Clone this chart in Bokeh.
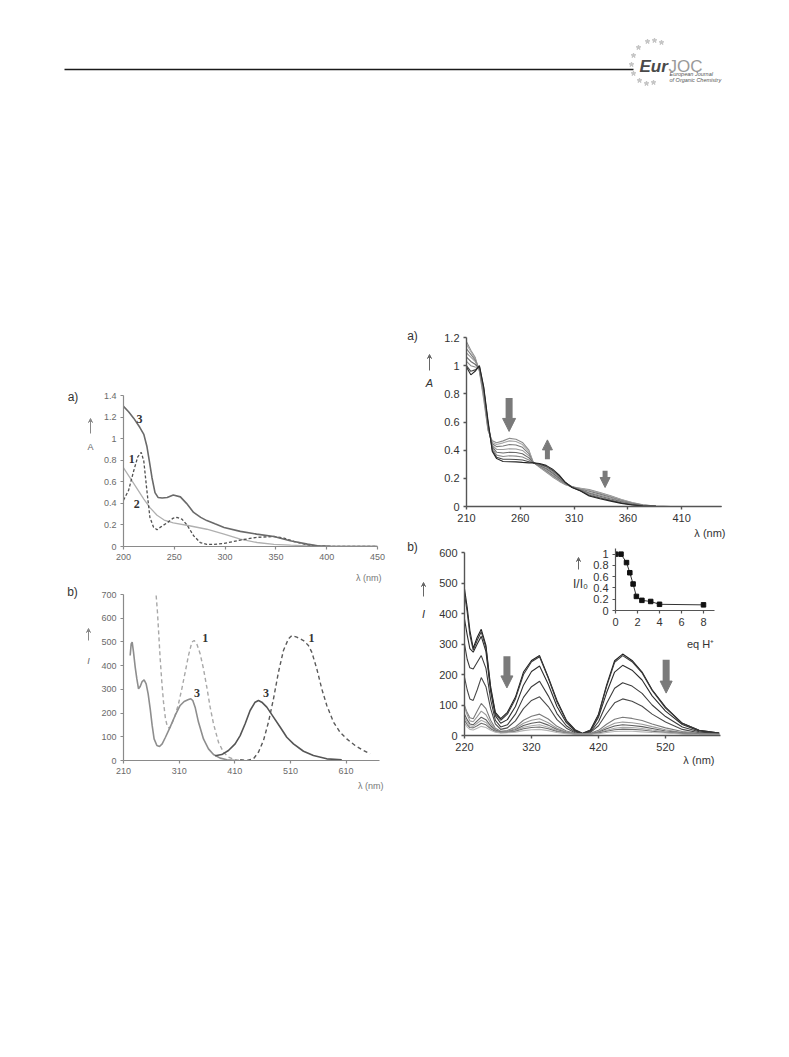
from bokeh.plotting import figure
from bokeh.models import Range1d, FixedTicker, Label, Arrow, NormalHead, VeeHead, GridBox, Column
from bokeh.embed import file_html
from bokeh.resources import INLINE

# ---------------- data: left a) absorbance ----------------
X1A_3 = [200, 205, 210, 216, 220, 223, 226, 228, 231, 234, 238, 243, 249, 256, 262, 269, 276, 282, 290, 299, 315, 331, 348, 364, 381, 391, 404, 420, 450]
Y1A_3 = [1.30, 1.25, 1.19, 1.105, 1.04, 0.93, 0.76, 0.64, 0.50, 0.455, 0.45, 0.455, 0.477, 0.46, 0.40, 0.316, 0.27, 0.24, 0.21, 0.177, 0.14, 0.115, 0.093, 0.053, 0.022, 0.006, 0.001, 0, 0]
X1A_1 = [200, 205, 210, 214, 217.5, 220, 223, 226, 229.5, 233, 236, 243, 249, 252.5, 257.5, 262.5, 269, 275.5, 282, 289, 299, 315, 331.5, 348, 358, 368, 381, 391, 405, 450]
Y1A_1 = [0.43, 0.52, 0.70, 0.83, 0.873, 0.79, 0.52, 0.27, 0.18, 0.155, 0.177, 0.22, 0.263, 0.27, 0.254, 0.20, 0.10, 0.037, 0.02, 0.02, 0.028, 0.06, 0.085, 0.093, 0.077, 0.046, 0.015, 0.005, 0, 0]
X1A_2 = [200, 210, 220, 226, 233, 240, 249, 266, 282, 299, 315, 331.5, 348, 364.5, 381, 397, 420, 450]
Y1A_2 = [0.73, 0.585, 0.44, 0.36, 0.29, 0.245, 0.22, 0.19, 0.16, 0.115, 0.068, 0.037, 0.02, 0.012, 0.006, 0.002, 0, 0]
X1A_TICKS = [200, 250, 300, 350, 400, 450]
X1A_LABELS = ["200", "250", "300", "350", "400", "450"]
Y1A_TICKS = [0, 0.2, 0.4, 0.6, 0.8, 1, 1.2, 1.4]
Y1A_LABELS = ["0", "0.2", "0.4", "0.6", "0.8", "1", "1.2", "1.4"]
LBL1A = [("3", 215.8, 1.18), ("1", 208, 0.81), ("2", 213, 0.39)]

# ---------------- data: left b) emission ----------------
X1B_3L = [222, 223.8, 225.6, 228, 231, 234, 237, 240, 243.5, 247, 250.7, 254.3, 258, 261.5, 265, 270, 274.7, 279.5, 285.4, 293.8, 302.8, 311.8, 319, 326.8, 331, 334.5, 338.7, 344.7, 353.7, 362.7, 371.7, 383.7, 395.6, 413.6]
Y1B_3L = [443, 492, 499, 457, 394, 344, 302, 312, 333, 340, 323, 281, 218, 148, 91, 63, 59, 70, 98, 141, 190, 232, 249, 257, 260, 253, 225, 162, 91, 49, 25, 10, 3, 0]
X1B_3R = [374.7, 386.6, 398.6, 410.6, 419.6, 428.6, 437.5, 446.5, 452.5, 458.5, 467.5, 479.5, 491.4, 503.4, 515.4, 533.4, 551.3, 575.3, 602.2]
Y1B_3R = [20, 25, 42, 70, 105, 155, 211, 246, 253, 246, 225, 183, 141, 98, 70, 39, 21, 7, 3]
X1B_1L = [268.7, 271, 273.5, 275.9, 278.9, 281.9, 285.4, 289, 292.6, 296.8, 302.8, 308.8, 314.8, 320.8, 326.8, 332.8, 337, 341.7, 347.7, 353.7, 359.7, 365.7, 371.7, 380.7, 389.6, 398.6, 410.6, 425.6]
Y1B_1L = [696, 626, 527, 429, 330, 246, 176, 141, 136, 155, 190, 239, 302, 372, 443, 499, 506, 492, 450, 387, 309, 225, 155, 77, 35, 14, 3, 0]
X1B_1R = [419.6, 431.6, 443.5, 452.5, 461.5, 470.5, 479.5, 488.4, 497.4, 506.4, 512.4, 521.4, 533.4, 542.3, 548.3, 557.3, 566.3, 575.3, 587.3, 599.2, 611.2, 626.2, 641.1, 653.1]
Y1B_1R = [3, 0, 7, 35, 84, 162, 260, 372, 464, 513, 527, 520, 506, 485, 457, 387, 302, 232, 162, 119, 91, 63, 42, 28]
X1B_TICKS = [210, 310, 410, 510, 610]
X1B_LABELS = ["210", "310", "410", "510", "610"]
Y1B_TICKS = [0, 100, 200, 300, 400, 500, 600, 700]
Y1B_LABELS = ["0", "100", "200", "300", "400", "500", "600", "700"]
LBL1B = [("1", 357, 516), ("1", 548, 516), ("3", 342, 285), ("3", 466, 285)]

# ---------------- data: right a) titration absorbance ----------------
X2A = [210, 214, 218, 222, 226, 230, 234, 238, 244, 250, 256, 262, 268, 272, 278, 284, 290, 296, 302, 308, 316, 324, 334, 344, 354, 364, 374, 386, 400, 447]
Y2A = [
    [1.17, 1.11, 1.06, 0.96, 0.76, 0.54, 0.466, 0.452, 0.466, 0.484, 0.478, 0.455, 0.40, 0.315, 0.278, 0.245, 0.21, 0.18, 0.155, 0.14, 0.13, 0.12, 0.10, 0.076, 0.05, 0.028, 0.012, 0.003, 0, 0],
    [1.15, 1.10, 1.05, 0.965, 0.78, 0.545, 0.455, 0.44, 0.452, 0.466, 0.462, 0.44, 0.39, 0.315, 0.28, 0.25, 0.215, 0.185, 0.157, 0.14, 0.127, 0.115, 0.095, 0.072, 0.047, 0.026, 0.011, 0.003, 0, 0],
    [1.12, 1.08, 1.04, 0.97, 0.80, 0.555, 0.445, 0.425, 0.43, 0.44, 0.437, 0.42, 0.375, 0.313, 0.283, 0.255, 0.222, 0.19, 0.16, 0.14, 0.123, 0.108, 0.088, 0.066, 0.043, 0.023, 0.01, 0.002, 0, 0],
    [1.09, 1.06, 1.03, 0.975, 0.81, 0.565, 0.435, 0.405, 0.405, 0.41, 0.408, 0.398, 0.36, 0.312, 0.287, 0.262, 0.23, 0.196, 0.162, 0.14, 0.12, 0.10, 0.08, 0.06, 0.038, 0.02, 0.008, 0.002, 0, 0],
    [1.06, 1.03, 1.01, 0.98, 0.82, 0.575, 0.425, 0.385, 0.38, 0.385, 0.383, 0.375, 0.345, 0.311, 0.291, 0.27, 0.238, 0.202, 0.165, 0.14, 0.117, 0.094, 0.073, 0.053, 0.034, 0.018, 0.007, 0.002, 0, 0],
    [1.03, 1.00, 0.99, 0.985, 0.83, 0.585, 0.415, 0.365, 0.355, 0.36, 0.358, 0.352, 0.33, 0.31, 0.296, 0.278, 0.247, 0.21, 0.168, 0.139, 0.114, 0.088, 0.066, 0.047, 0.029, 0.015, 0.006, 0.001, 0, 0],
    [1.00, 0.96, 0.97, 0.995, 0.84, 0.595, 0.40, 0.35, 0.335, 0.335, 0.334, 0.33, 0.318, 0.31, 0.30, 0.285, 0.256, 0.218, 0.17, 0.137, 0.112, 0.08, 0.06, 0.042, 0.025, 0.013, 0.005, 0.001, 0, 0],
    [0.99, 0.935, 0.96, 1.00, 0.85, 0.61, 0.39, 0.34, 0.32, 0.318, 0.317, 0.313, 0.31, 0.31, 0.305, 0.292, 0.265, 0.225, 0.17, 0.135, 0.11, 0.075, 0.055, 0.038, 0.022, 0.011, 0.004, 0.001, 0, 0],
]
C2A = ["#8c8c8c", "#a8a8a8", "#7a7a7a", "#9a9a9a", "#6a6a6a", "#8a8a8a", "#4a4a4a", "#262626"]
X2A_TICKS = [210, 260, 310, 360, 410]
X2A_LABELS = ["210", "260", "310", "360", "410"]
Y2A_TICKS = [0, 0.2, 0.4, 0.6, 0.8, 1, 1.2]
Y2A_LABELS = ["0", "0.2", "0.4", "0.6", "0.8", "1", "1.2"]
ARR2A = [(249.6, 0.77, 0.533, 7, 13), (285.2, 0.336, 0.473, 5, 10), (338.8, 0.253, 0.135, 5, 10)]

# ---------------- data: right b) titration emission ----------------
X2B = [220, 224, 228, 233, 239, 245, 252, 259, 266, 274, 284, 296, 308, 320, 332, 345, 358, 372, 385, 396, 408, 420, 432, 444, 456, 470, 485, 500, 520, 545, 570, 600]
Y2B = [
    [481, 420, 345, 286, 322, 348, 295, 160, 76, 55, 76, 126, 208, 246, 262, 191, 115, 50, 19, 7, 18, 70, 165, 245, 267, 246, 208, 150, 93, 40, 17, 8],
    [465, 405, 330, 280, 312, 340, 288, 152, 72, 50, 70, 120, 200, 242, 258, 188, 110, 48, 17, 6, 17, 67, 160, 240, 262, 242, 205, 148, 90, 40, 17, 8],
    [382, 330, 285, 273, 300, 325, 275, 145, 65, 40, 52, 95, 165, 210, 228, 168, 95, 42, 15, 6, 15, 60, 140, 208, 230, 214, 182, 130, 80, 36, 15, 7],
    [300, 250, 222, 218, 240, 262, 220, 118, 50, 28, 35, 70, 125, 160, 178, 130, 72, 32, 12, 5, 12, 45, 105, 155, 173, 162, 138, 100, 62, 28, 12, 6],
    [191, 150, 120, 115, 150, 190, 160, 88, 38, 20, 25, 48, 88, 115, 127, 95, 52, 24, 9, 5, 10, 32, 72, 107, 120, 112, 96, 70, 44, 20, 9, 5],
    [98, 75, 58, 55, 80, 105, 88, 50, 24, 14, 16, 28, 50, 63, 70, 54, 30, 15, 7, 4, 7, 17, 37, 53, 60, 56, 49, 38, 25, 13, 7, 4],
    [95, 68, 48, 45, 62, 80, 68, 40, 20, 12, 14, 23, 40, 50, 55, 42, 24, 12, 6, 4, 6, 13, 28, 40, 44, 42, 37, 29, 19, 10, 6, 4],
    [70, 52, 38, 35, 48, 60, 52, 32, 17, 11, 12, 19, 33, 40, 44, 34, 20, 10, 5, 4, 5, 11, 22, 31, 35, 33, 29, 23, 15, 9, 5, 3],
    [60, 44, 32, 30, 40, 50, 43, 27, 15, 10, 11, 16, 27, 32, 35, 27, 16, 9, 5, 4, 5, 9, 17, 24, 27, 26, 23, 18, 12, 7, 4, 3],
    [50, 36, 26, 25, 32, 40, 35, 22, 13, 9, 10, 14, 22, 26, 28, 22, 13, 8, 5, 4, 5, 8, 14, 19, 21, 20, 18, 14, 10, 6, 4, 3],
    [40, 28, 20, 18, 24, 30, 26, 17, 11, 8, 9, 11, 16, 19, 20, 16, 10, 6, 4, 4, 4, 6, 10, 13, 14, 14, 12, 10, 8, 5, 3, 2],
]
C2B = ["#1e1e1e", "#3a3a3a", "#2e2e2e", "#3c3c3c", "#4a4a4a", "#7a7a7a", "#9a9a9a", "#5e5e5e", "#aaaaaa", "#6e6e6e", "#b5b5b5"]
X2B_TICKS = [220, 320, 420, 520]
X2B_LABELS = ["220", "320", "420", "520"]
Y2B_TICKS = [0, 100, 200, 300, 400, 500, 600]
Y2B_LABELS = ["0", "100", "200", "300", "400", "500", "600"]
ARR2B = [(283.3, 260, 156, 7, 12), (520.9, 248, 139, 7, 12)]

# ---------------- data: inset ----------------
EQ_H = [0, 0.5, 1, 1.3, 1.6, 1.9, 2.4, 3.2, 4, 8]
I_I0 = [1.0, 1.0, 0.85, 0.67, 0.47, 0.25, 0.18, 0.16, 0.11, 0.10]
XIN_TICKS = [0, 2, 4, 6, 8]
XIN_LABELS = ["0", "2", "4", "6", "8"]
YIN_TICKS = [0, 0.2, 0.4, 0.6, 0.8, 1]
YIN_LABELS = ["0", "0.2", "0.4", "0.6", "0.8", "1"]

# ---------------- free page texts (page pixel positions) ----------------
PAGE_TEXTS = [
    ("a)", 72.5, 396, "12px", "#333333", "normal", "center"),
    ("A", 90, 446, "9px", "#666666", "normal", "center"),
    ("λ (nm)", 381, 577, "9px", "#777777", "normal", "right"),
    ("b)", 72, 591, "12px", "#333333", "normal", "center"),
    ("I", 88, 660, "9px", "#666666", "italic", "center"),
    ("λ (nm)", 383, 785, "9px", "#777777", "normal", "right"),
    ("a)", 412, 335, "12px", "#333333", "normal", "center"),
    ("A", 429, 382, "11px", "#333333", "italic", "center"),
    ("λ (nm)", 725, 532, "11px", "#333333", "normal", "right"),
    ("b)", 412, 546, "12px", "#333333", "normal", "center"),
    ("I", 423, 613, "11px", "#333333", "italic", "center"),
    ("λ (nm)", 714, 759, "11px", "#333333", "normal", "right"),
    ("I/I₀", 580, 583, "12px", "#333333", "normal", "center"),
    ("eq H⁺", 700, 643, "11px", "#333333", "normal", "center"),
]
PAGE_ARROWS = [(90, 433, 418, "#888888"), (88, 640, 628, "#888888"), (429, 370, 354, "#666666"),
               (423, 596, 582, "#666666"), (578, 569, 557, "#666666")]
STAR_X = [647, 654, 661, 638, 633, 631, 633, 639, 646, 653]
STAR_Y = [41, 40, 42, 47, 55, 64, 73, 80, 83, 82]

ORIGIN = 0
SANS = "Liberation Sans"
SERIF = "Liberation Serif"


def make_chart(left, top, fw, fh, xr, yr, mb):
    p = figure(frame_width=fw, frame_height=fh, x_range=Range1d(*xr), y_range=Range1d(*yr),
               output_backend="svg", toolbar_location=None, frame_align=False,
               min_border_top=mb[0], min_border_right=mb[1], min_border_bottom=mb[2], min_border_left=mb[3])
    p.background_fill_alpha = 0
    p.border_fill_alpha = 0
    p.outline_line_color = None
    p.grid.visible = False
    wrap = Column(children=[p], margin=(top - ORIGIN - mb[0], 0, 0, left - ORIGIN - mb[3]))
    return p, wrap


def style_axes(p, xt, xl, yt, yl, size, color, axis_color, axis_w):
    xa = p.xaxis[0]
    ya = p.yaxis[0]
    xa.ticker = FixedTicker(ticks=xt)
    xa.major_label_overrides = {t: l for t, l in zip(xt, xl)}
    ya.ticker = FixedTicker(ticks=yt)
    ya.major_label_overrides = {t: l for t, l in zip(yt, yl)}
    for ax in (xa, ya):
        ax.minor_tick_line_color = None
        ax.major_tick_in = 0
        ax.major_tick_out = 3
        ax.axis_line_color = axis_color
        ax.axis_line_width = axis_w
        ax.major_tick_line_color = axis_color
        ax.major_tick_line_width = axis_w
        ax.major_label_text_font = SANS
        ax.major_label_text_font_size = size
        ax.major_label_text_color = color
        ax.major_label_standoff = 4


# ---------------- left a) ----------------
p1a, w1a = make_chart(123, 395, 254, 151, (200, 450), (0, 1.4), (20, 15, 45, 75))
style_axes(p1a, X1A_TICKS, X1A_LABELS, Y1A_TICKS, Y1A_LABELS, "9px", "#6a6a6a", "#8a8a8a", 1.2)
p1a.line(X1A_2, Y1A_2, line_color="#b0b0b0", line_width=1.3)
p1a.line(X1A_1, Y1A_1, line_color="#505050", line_width=1.3, line_dash="3 2")
p1a.line(X1A_3, Y1A_3, line_color="#6a6a6a", line_width=1.6)
for t, x, y in LBL1A:
    p1a.add_layout(Label(x=x, y=y, text=t, text_font=SERIF, text_font_size="12px", text_font_style="bold",
                         text_color="#333333", text_align="center", text_baseline="middle"))

# ---------------- left b) ----------------
p1b, w1b = make_chart(123, 594, 256, 166, (210, 670), (0, 700), (20, 15, 45, 75))
style_axes(p1b, X1B_TICKS, X1B_LABELS, Y1B_TICKS, Y1B_LABELS, "9px", "#6a6a6a", "#8a8a8a", 1.2)
p1b.line(X1B_1L, Y1B_1L, line_color="#a8a8a8", line_width=1.4, line_dash="4 3")
p1b.line(X1B_1R, Y1B_1R, line_color="#5a5a5a", line_width=1.4, line_dash="4 3")
p1b.line(X1B_3L, Y1B_3L, line_color="#8e8e8e", line_width=1.6)
p1b.line(X1B_3R, Y1B_3R, line_color="#555555", line_width=1.6)
for t, x, y in LBL1B:
    p1b.add_layout(Label(x=x, y=y, text=t, text_font=SERIF, text_font_size="12px", text_font_style="bold",
                         text_color="#333333", text_align="center", text_baseline="middle"))

# ---------------- right a) ----------------
p2a, w2a = make_chart(466, 337, 255, 169, (210, 447), (0, 1.2), (20, 25, 40, 70))
style_axes(p2a, X2A_TICKS, X2A_LABELS, Y2A_TICKS, Y2A_LABELS, "11px", "#333333", "#555555", 1.4)
for ys, c in zip(Y2A, C2A):
    p2a.line(X2A, ys, line_color=c, line_width=1.1)
for x, ys, ye, lw, hs in ARR2A:
    p2a.add_layout(Arrow(end=NormalHead(size=hs, fill_color="#7a7a7a", line_color="#7a7a7a"),
                         x_start=x, y_start=ys, x_end=x, y_end=ye, line_color="#7a7a7a", line_width=lw))

# ---------------- right b) ----------------
p2b, w2b = make_chart(464, 552, 256, 183, (220, 602), (0, 600), (20, 25, 40, 70))
style_axes(p2b, X2B_TICKS, X2B_LABELS, Y2B_TICKS, Y2B_LABELS, "11px", "#333333", "#555555", 1.4)
for ys, c in zip(Y2B, C2B):
    p2b.line(X2B, ys, line_color=c, line_width=1.1)
for x, ys, ye, lw, hs in ARR2B:
    p2b.add_layout(Arrow(end=NormalHead(size=hs, fill_color="#7a7a7a", line_color="#7a7a7a"),
                         x_start=x, y_start=ys, x_end=x, y_end=ye, line_color="#7a7a7a", line_width=lw))

# ---------------- inset ----------------
pin, win = make_chart(615, 548, 99, 62, (0, 9), (0, 1.1), (10, 15, 45, 60))
style_axes(pin, XIN_TICKS, XIN_LABELS, YIN_TICKS, YIN_LABELS, "11px", "#333333", "#555555", 1.2)
pin.line(EQ_H, I_I0, line_color="#333333", line_width=1)
pin.scatter(EQ_H, I_I0, marker="square", size=4.5, fill_color="#111111", line_color="#111111")

# ---------------- page overlay: header + free texts (page pixel coordinates) ----------------
pg = figure(frame_width=781, frame_height=816, x_range=Range1d(0, 781), y_range=Range1d(816, 0),
            output_backend="svg", toolbar_location=None, x_axis_location=None, y_axis_location=None,
            min_border=0, min_border_left=0, min_border_right=0, min_border_top=0, min_border_bottom=0,
            frame_align=False)
pg.outline_line_color = None
pg.grid.visible = False
pg.background_fill_alpha = 0
pg.border_fill_alpha = 0
pg.segment(x0=[64], y0=[69], x1=[633], y1=[69], line_color="#1a1a1a", line_width=1.3)
pg.scatter(x=STAR_X, y=STAR_Y, marker="star", size=5, fill_color="#c4c4c4", line_color="#c4c4c4")
pg.add_layout(Label(x=639, y=66, text="Eur", text_font=SANS, text_font_size="17px",
                    text_font_style="bold italic", text_color="#4a4a4a", text_baseline="alphabetic"))
pg.add_layout(Label(x=668, y=66, text="JOC", text_font=SANS, text_font_size="17px",
                    text_font_style="normal", text_color="#9a9a9a", text_baseline="alphabetic"))
pg.add_layout(Label(x=669, y=73, text="European Journal", text_font=SANS, text_font_size="5.5px",
                    text_font_style="italic", text_color="#555555", text_baseline="middle"))
pg.add_layout(Label(x=669, y=79, text="of Organic Chemistry", text_font=SANS, text_font_size="5.5px",
                    text_font_style="italic", text_color="#555555", text_baseline="middle"))
for t, x, y, size, color, style, align in PAGE_TEXTS:
    pg.add_layout(Label(x=x, y=y, text=t, text_font=SANS, text_font_size=size, text_color=color,
                        text_font_style=style, text_align=align, text_baseline="middle"))
for x, yb, yt, color in PAGE_ARROWS:
    pg.add_layout(Arrow(end=VeeHead(size=4, line_color=color, fill_color=color, line_width=1),
                        x_start=x, y_start=yb, x_end=x, y_end=yt, line_color=color, line_width=1))
wpg = Column(children=[pg], margin=(0, 0, 0, 0))

grid = GridBox(children=[(w1a, 0, 0), (w1b, 0, 0), (w2a, 0, 0), (w2b, 0, 0), (win, 0, 0), (wpg, 0, 0)])

open("out.html", "w").write(file_html(grid, INLINE))
